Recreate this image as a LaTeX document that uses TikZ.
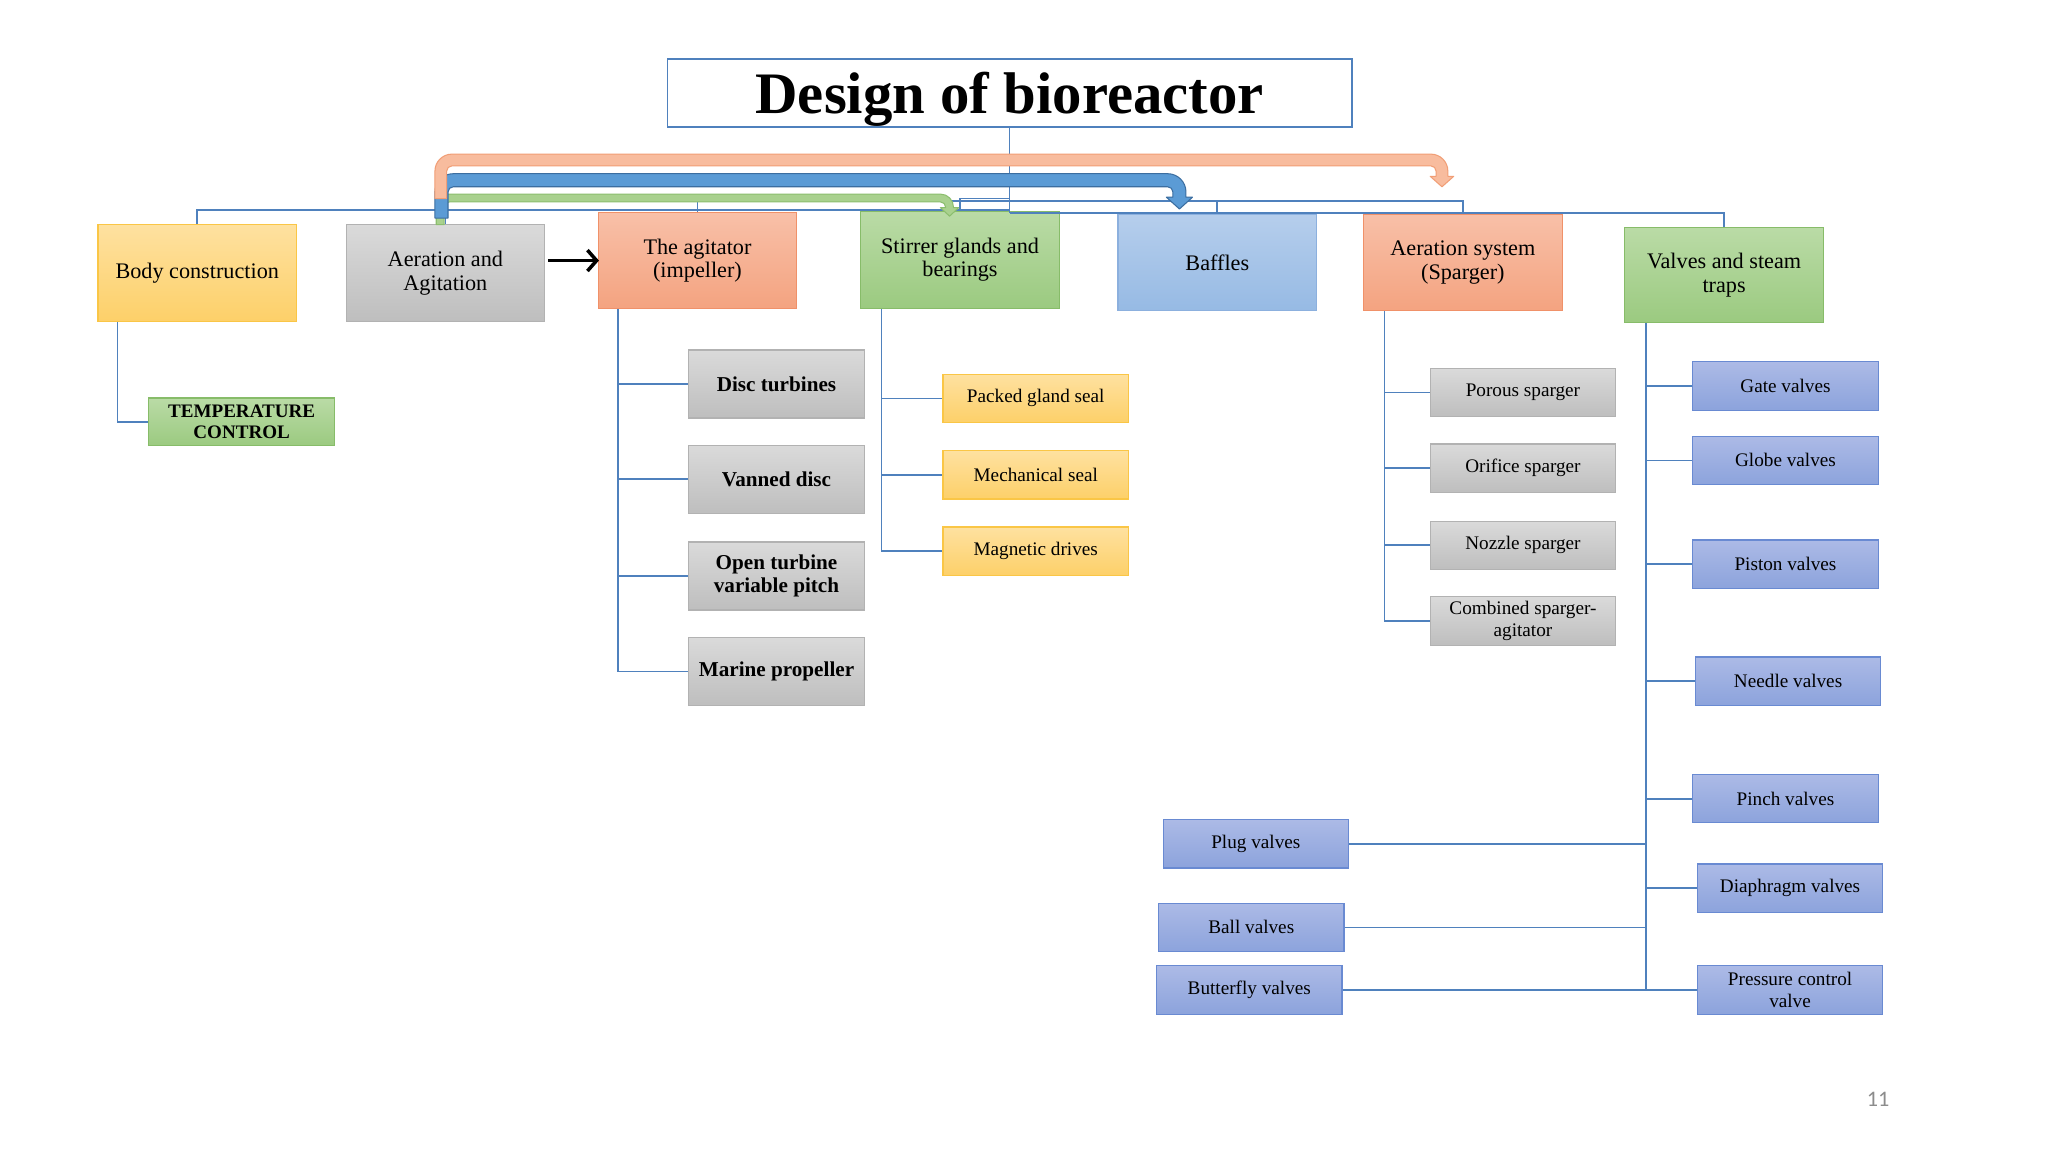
\documentclass[tikz,border=0pt]{standalone}
\usepackage{fontspec}
\setmainfont{Liberation Serif}
\newfontfamily\pagenumfont{Carlito}
\usetikzlibrary{arrows.meta}

\definecolor{linecol}{RGB}{79,129,189}
\definecolor{yelTop}{RGB}{254,225,160}
\definecolor{yelBot}{RGB}{253,208,105}
\definecolor{yelLine}{RGB}{250,198,70}
\definecolor{grayTop}{RGB}{218,218,218}
\definecolor{grayBot}{RGB}{190,190,190}
\definecolor{grayLine}{RGB}{178,178,178}
\definecolor{orTop}{RGB}{248,192,168}
\definecolor{orBot}{RGB}{244,163,128}
\definecolor{orLine}{RGB}{240,145,105}
\definecolor{grTop}{RGB}{186,219,166}
\definecolor{grBot}{RGB}{155,202,128}
\definecolor{grLine}{RGB}{135,188,105}
\definecolor{bfTop}{RGB}{182,206,236}
\definecolor{bfBot}{RGB}{150,186,228}
\definecolor{bfLine}{RGB}{140,176,222}
\definecolor{vbTop}{RGB}{172,186,230}
\definecolor{vbBot}{RGB}{140,163,220}
\definecolor{vbLine}{RGB}{105,138,210}
\definecolor{oaFill}{RGB}{248,188,158}
\definecolor{oaLine}{RGB}{241,158,118}
\definecolor{baFill}{RGB}{91,155,213}
\definecolor{baLine}{RGB}{60,110,160}
\definecolor{gaFill}{RGB}{169,209,142}
\definecolor{gaLine}{RGB}{140,190,110}
\definecolor{numgray}{RGB}{140,140,140}

\tikzset{
  boxbase/.style={line width=0.9pt, inner sep=0pt, align=center},
  yelbox/.style={boxbase, draw=yelLine, top color=yelTop, bottom color=yelBot},
  graybox/.style={boxbase, draw=grayLine, top color=grayTop, bottom color=grayBot},
  orbox/.style={boxbase, draw=orLine, top color=orTop, bottom color=orBot},
  grbox/.style={boxbase, draw=grLine, top color=grTop, bottom color=grBot},
  bfbox/.style={boxbase, draw=bfLine, top color=bfTop, bottom color=bfBot},
  vbbox/.style={boxbase, draw=vbLine, top color=vbTop, bottom color=vbBot},
  lvlone/.style={minimum width=152pt, minimum height=74pt, font=\fontsize{17}{18}\selectfont},
  agitchild/.style={graybox, minimum width=135pt, minimum height=52pt, font=\bfseries\fontsize{16.2}{18}\selectfont},
  smallchild/.style={minimum width=142pt, minimum height=37pt, font=\fontsize{14.7}{16.5}\selectfont},
  conn/.style={draw=linecol, line width=1.3pt},
  oarrow/.style={fill=oaFill, draw=oaLine, line width=0.8pt, line join=round},
  barrow/.style={fill=baFill, draw=baLine, line width=0.8pt, line join=round},
  garrow/.style={fill=gaFill, draw=gaLine, line width=0.8pt, line join=round},
}

% bent block arrow: #1 style, #2 left x, #3 band width, #4 top y, #5 leg bottom y,
% #6 head centre x, #7 head half width, #8 head base y, #9 tip y
\newcommand{\bentarrow}[9]{%
  \pgfmathsetmacro{\baLo}{#2}%
  \pgfmathsetmacro{\baLi}{#2+#3}%
  \pgfmathsetmacro{\baTo}{#4}%
  \pgfmathsetmacro{\baTi}{#4+#3}%
  \pgfmathsetmacro{\baRo}{#6+#3/2}%
  \pgfmathsetmacro{\baRi}{#6-#3/2}%
  \pgfmathsetmacro{\baR}{#3+4}%
  \pgfmathsetmacro{\baRin}{4}%
  \pgfmathsetmacro{\baK}{0.5523}%
  \path[#1]
   (\baLo,#5) -- (\baLo,\baTo+\baR)
   .. controls (\baLo,\baTo+\baR-\baK*\baR) and (\baLo+\baR-\baK*\baR,\baTo) .. (\baLo+\baR,\baTo)
   -- (\baRo-\baR,\baTo)
   .. controls (\baRo-\baR+\baK*\baR,\baTo) and (\baRo,\baTo+\baR-\baK*\baR) .. (\baRo,\baTo+\baR)
   -- (\baRo,#8) -- (#6+#7,#8) -- (#6,#9) -- (#6-#7,#8) -- (\baRi,#8)
   -- (\baRi,\baTi+\baRin)
   .. controls (\baRi,\baTi+\baRin-\baK*\baRin) and (\baRi-\baRin+\baK*\baRin,\baTi) .. (\baRi-\baRin,\baTi)
   -- (\baLi+\baRin,\baTi)
   .. controls (\baLi+\baRin-\baK*\baRin,\baTi) and (\baLi,\baTi+\baRin-\baK*\baRin) .. (\baLi,\baTi+\baRin)
   -- (\baLi,#5) -- cycle;
}

\begin{document}
\begin{tikzpicture}[x=1pt,y=-1pt]
\fill[white] (0,0) rectangle (1568,882);
\useasboundingbox (0,0) rectangle (1568,882);

% title
\node[draw=linecol, line width=1.3pt, fill=white, minimum width=524pt, minimum height=52pt,
      inner sep=0pt, text depth=0pt, font=\bfseries\fontsize{45}{50}\selectfont] (title) at (773,71) {Design of bioreactor};

% level one boxes
\node[yelbox, lvlone] (body) at (151,209) {Body construction};
\node[graybox, lvlone] (aer) at (341,209) {Aeration and\\Agitation};
\node[orbox, lvlone, minimum height=73pt] (agit) at (534,199.5) {The agitator\\(impeller)};
\node[grbox, lvlone] (stir) at (735,199) {Stirrer glands and\\bearings};
\node[bfbox, lvlone] (baff) at (932,201) {Baffles};
\node[orbox, lvlone] (spar) at (1120,201) {Aeration system\\(Sparger)};
\node[grbox, lvlone, minimum height=73pt] (valv) at (1320,210.5) {Valves and steam\\traps};

% temperature control
\node[grbox, minimum width=142pt, minimum height=36.5pt, font=\bfseries\fontsize{14.6}{15.5}\selectfont] (temp) at (185,323) {TEMPERATURE\\CONTROL};

% agitator children
\node[agitchild] (disc) at (594.5,294) {Disc turbines};
\node[agitchild] (vann) at (594.5,367) {Vanned disc};
\node[agitchild] (open) at (594.5,441) {Open turbine\\variable pitch};
\node[agitchild] (mari) at (594.5,514) {Marine propeller};

% stirrer children
\node[yelbox, smallchild] (pack) at (793,305) {Packed gland seal};
\node[yelbox, smallchild] (mech) at (793,363.5) {Mechanical seal};
\node[yelbox, smallchild] (magn) at (793,422) {Magnetic drives};

% sparger children
\node[graybox, smallchild] (poro) at (1166,300.5) {Porous sparger};
\node[graybox, smallchild] (orif) at (1166,358.5) {Orifice sparger};
\node[graybox, smallchild] (nozz) at (1166,417.5) {Nozzle sparger};
\node[graybox, smallchild] (comb) at (1166,475.5) {Combined sparger-\\agitator};

% valves children
\node[vbbox, smallchild] (gate) at (1367,295.5) {Gate valves};
\node[vbbox, smallchild] (glob) at (1367,352.5) {Globe valves};
\node[vbbox, smallchild] (pist) at (1367,432) {Piston valves};
\node[vbbox, smallchild] (need) at (1369,521.5) {Needle valves};
\node[vbbox, smallchild] (pinc) at (1367,611.5) {Pinch valves};
\node[vbbox, smallchild] (diap) at (1370.5,680) {Diaphragm valves};
\node[vbbox, smallchild] (pres) at (1370.5,758) {Pressure control\\valve};
\node[vbbox, smallchild] (plug) at (961.5,646) {Plug valves};
\node[vbbox, smallchild] (ball) at (958,710) {Ball valves};
\node[vbbox, smallchild] (butt) at (956.5,758) {Butterfly valves};

% page number
\node[font=\pagenumfont\fontsize{17}{17}\selectfont, text=numgray] (pgnum) at (1438,842) {11};

% tree connectors from title
\coordinate (t161) at (773,161);
\coordinate (t154) at (773,154);
\coordinate (t152) at (773,152);
\coordinate (t163) at (773,163);
\draw[conn] (title.south) -- (t163);
\draw[conn] (t161) -| (body.north);
\draw[conn] (t161) -| (aer.north);
\draw[conn] (t154) -| (agit.north);
\draw[conn] (t152) -| (stir.north);
\draw[conn] (t154) -| (baff.north);
\draw[conn] (t154) -| (spar.north);
\draw[conn] (t163) -| (valv.north);

% body -> temperature
\coordinate (bx) at (90,0);
\draw[conn] (body.south -| bx) |- (temp.west);

% agitator children
\coordinate (ax) at (473,0);
\draw[conn] (agit.south -| ax) |- (mari.west);
\foreach \n in {disc,vann,open} \draw[conn] (\n.west -| ax) -- (\n.west);

% stirrer children
\coordinate (sx) at (675,0);
\draw[conn] (stir.south -| sx) |- (magn.west);
\foreach \n in {pack,mech} \draw[conn] (\n.west -| sx) -- (\n.west);

% sparger children
\coordinate (px) at (1060,0);
\draw[conn] (spar.south -| px) |- (comb.west);
\foreach \n in {poro,orif,nozz} \draw[conn] (\n.west -| px) -- (\n.west);

% valves children
\coordinate (vx) at (1260,0);
\draw[conn] (valv.south -| vx) -- (butt.east -| vx);
\foreach \n in {gate,glob,pist,need,pinc,diap} \draw[conn] (\n.west -| vx) -- (\n.west);
\foreach \n in {plug,ball} \draw[conn] (\n.east) -- (\n.east -| vx);
\draw[conn] (butt.east) -- (pres.west);

% black arrow
\coordinate (blk) at ([xshift=2pt]aer.east);
\draw[line width=2.7pt, -{Straight Barb[length=7pt,width=16pt]}] (blk |- agit.west) -- ([xshift=1pt]agit.west);

% block arrows
\bentarrow{garrow}{334}{6}{148.6}{172}{727}{7}{159}{165.5}
\bentarrow{barrow}{333}{10}{133}{167}{903}{10}{151}{160}
\bentarrow{oarrow}{333}{9}{118}{152}{1104}{9}{135}{143}

\end{tikzpicture}
\end{document}
